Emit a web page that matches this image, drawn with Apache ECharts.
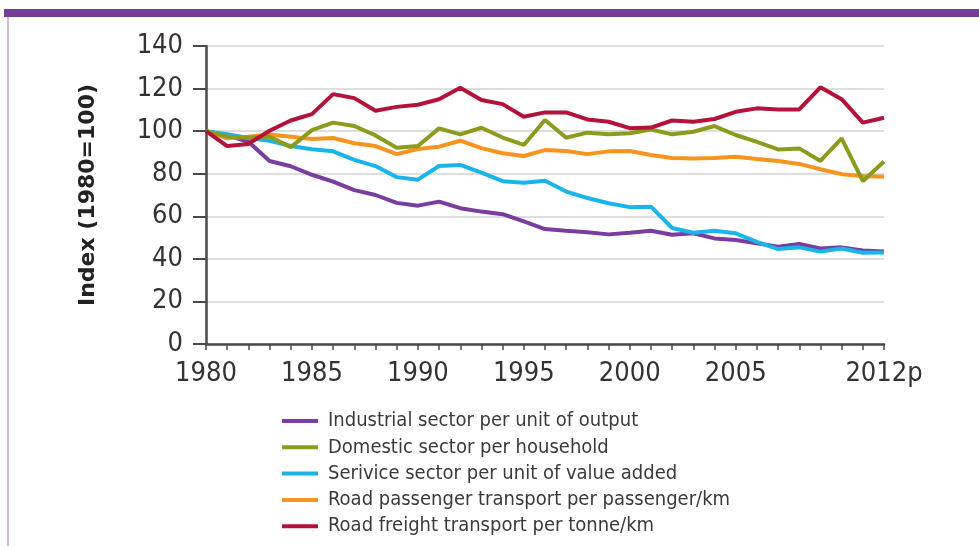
<!DOCTYPE html>
<html>
<head>
<meta charset="utf-8">
<script src="https://cdn.jsdelivr.net/npm/echarts@6/dist/echarts.min.js"></script>
<style>
html,body{margin:0;padding:0;background:#fff;}
#chart{width:979px;height:546px;}
</style>
</head>
<body>
<div id="chart"></div>
<script>
const categories = ['1980','1981','1982','1983','1984','1985','1986','1987','1988','1989','1990','1991','1992','1993','1994','1995','1996','1997','1998','1999','2000','2001','2002','2003','2004','2005','2006','2007','2008','2009','2010','2011','2012p'];
const yTicks = [0, 20, 40, 60, 80, 100, 120, 140];
const industrial = [100,98,95,86,83.5,79.5,76.3,72.3,70,66.3,65,66.9,63.8,62.2,61,57.6,54,53.2,52.5,51.5,52.3,53.2,51.3,52,49.6,48.9,47.3,45.7,47,44.9,45.4,43.9,43.4];
const domestic = [100,97.5,97,97.5,92.5,100.5,104,102.4,98,92.2,93,101.3,98.5,101.6,97,93.5,105.2,96.9,99.3,98.5,99,100.8,98.5,99.7,102.4,98.2,95,91.4,91.9,86,96.6,76.5,85.7];
const service = [100,98.5,96.8,95.5,93,91.5,90.5,86.5,83.6,78.4,77.2,83.6,84.1,80.5,76.5,75.8,76.7,71.6,68.6,66.1,64.3,64.5,54.5,52.3,53.2,52,48,44.6,45.4,43.4,44.9,42.9,43];
const passenger = [100,96.6,97.4,98.4,97.4,96.3,96.8,94.3,93,89.2,91.6,92.7,95.5,92,89.6,88.3,91.1,90.7,89.2,90.5,90.7,88.8,87.4,87.2,87.4,88,86.9,86,84.6,82.1,79.8,78.9,78.6];
const freight = [100,93,94,100.2,105,108,117.4,115.5,109.6,111.4,112.4,115,120.4,114.6,112.7,106.8,108.8,108.8,105.5,104.4,101.4,101.7,105,104.4,105.7,109.1,110.7,110.2,110.2,120.6,115,104,106.3];
const seriesNames = ['Industrial sector per unit of output','Domestic sector per household','Serivice sector per unit of value added','Road passenger transport per passenger/km','Road freight transport per tonne/km'];
const labelIdx = [0,5,10,15,20,25,32];

const FONT = "'Liberation Sans Narrow', 'DejaVu Sans Condensed', sans-serif";
const colors = ['#7a3c9e','#8c9b1e','#19b5ea','#f7941d','#b3123a'];
const zOrder = [2,5,3,4,6];
const dataSets = [industrial, domestic, service, passenger, freight];

const chart = echarts.init(document.getElementById('chart'), null, {renderer:'canvas'});
chart.setOption({
  animation:false,
  backgroundColor:'#fff',
  graphic:[
    {type:'rect', shape:{x:4,y:9,width:975,height:8}, style:{fill:'#753b96'}},
    {type:'rect', shape:{x:7,y:17,width:2,height:529}, style:{fill:'#cbbde0'}}
  ],
  grid:{left:206,right:95,top:46,bottom:202,containLabel:false},
  legend:{
    orient:'vertical', left:277, top:406,
    icon:'rect', itemWidth:36, itemHeight:4, itemGap:6.3,
    textStyle:{fontFamily:FONT, fontSize:20, color:'#3a3a3a', lineHeight:20, padding:[0,0,0,5]},
    data:seriesNames
  },
  xAxis:{
    type:'category', data:categories, boundaryGap:false,
    axisLine:{lineStyle:{color:'#4a4a4a', width:2.5}},
    axisTick:{show:true, interval:0, length:6, lineStyle:{color:'#4a4a4a', width:1.5}},
    axisLabel:{
      interval:function(i){return labelIdx.indexOf(i) >= 0;},
      fontFamily:FONT, fontSize:27, color:'#333', margin:16
    },
    splitLine:{show:false}
  },
  yAxis:{
    type:'value', min:yTicks[0], max:yTicks[yTicks.length-1], interval:20,
    name:'Index (1980=100)', nameLocation:'middle', nameGap:107,
    nameTextStyle:{fontFamily:"'DejaVu Sans'", fontWeight:'bold', fontSize:22, color:'#222'},
    axisLine:{show:true, lineStyle:{color:'#4a4a4a', width:2.5}},
    axisTick:{show:true, length:13, lineStyle:{color:'#4a4a4a', width:2}},
    axisLabel:{fontFamily:FONT, fontSize:27, color:'#333', margin:23},
    splitLine:{show:true, lineStyle:{color:'#dedede', width:2}}
  },
  series: seriesNames.map(function(n, k){
    return {
      name:n, type:'line', data:dataSets[k], z:zOrder[k],
      showSymbol:false, symbol:'none',
      lineStyle:{color:colors[k], width:4},
      itemStyle:{color:colors[k]}
    };
  })
});
</script>
</body>
</html>
